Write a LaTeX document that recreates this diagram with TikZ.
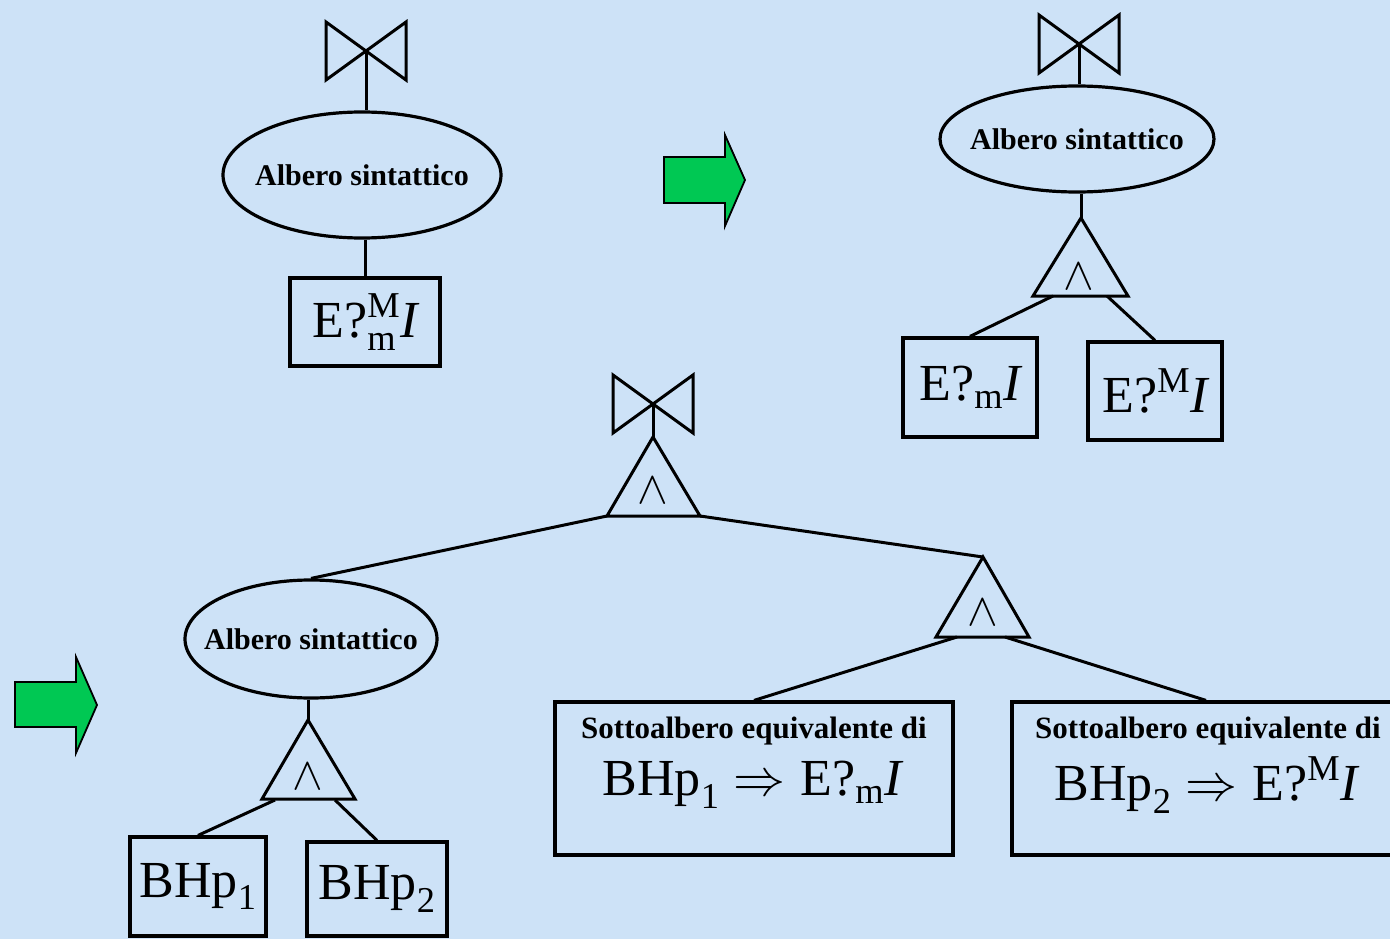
\documentclass[tikz,border=0pt]{standalone}
\usepackage{fix-cm}
\usepackage{fontspec}
\setmainfont{Liberation Serif}
\usetikzlibrary{shapes.geometric,calc}
\definecolor{bg}{RGB}{205,226,247}
\definecolor{grn}{RGB}{0,200,83}
\begin{document}
\begin{tikzpicture}[x=1pt,y=-1pt,line width=3pt,
  ell/.style={draw,ellipse,inner sep=0pt,line width=3.2pt},
  elltxt/.style={inner sep=0pt,font=\fontsize{30}{32}\selectfont\bfseries},
  boxnode/.style={draw,rectangle,inner sep=0pt,line width=3.2pt,font=\fontsize{52}{56}\selectfont},
  bigtxt/.style={inner sep=0pt,font=\fontsize{52}{56}\selectfont},
  smalltxt/.style={inner sep=0pt,font=\fontsize{31}{33}\selectfont\bfseries},
  andsym/.style={inner sep=0pt,font=\fontsize{46}{46}\selectfont},
  greenarrow/.style={fill=grn,draw=black,line width=1.8pt,line join=miter},
  bowtie/.pic={\draw[line join=miter] (-40,-29) -- (-40,29) -- (40,-29) -- (40,29) -- cycle;}
]
\fill[bg] (0,0) rectangle (1390,939);
\useasboundingbox (0,0) rectangle (1390,939);

% ---------- top left ----------
\coordinate (bt1) at (366,51);
\pic at (bt1) {bowtie};
\node[ell,minimum width=278,minimum height=126] (e1) at (362,175) {};
\node[elltxt] (e1t) at (e1.center) {Albero sintattico};
\node[boxnode,minimum width=150,minimum height=88] (b1) at (365,322)
  {$\mbox{E?}^{\mathrm{M}}_{\mathrm{m}}\mathit{I}$};
\draw (bt1) -- (bt1 |- e1.north);
\draw (b1.north) -- (b1.north |- e1.south);

% green arrow 1
\draw[greenarrow] (664,157) -- (725,157) -- (725,135) -- (745,180) -- (725,226) -- (725,203) -- (664,203) -- cycle;

% ---------- top right ----------
\coordinate (bt2) at (1079,44);
\pic at (bt2) {bowtie};
\node[ell,minimum width=274,minimum height=106] (e2) at (1077,139) {};
\node[elltxt] (e2t) at (e2.center) {Albero sintattico};
\coordinate (t1a) at (1081,218);
\coordinate (t1bl) at (1033,296);
\coordinate (t1br) at (1128,296);
\coordinate (t1l) at (1053,296);
\coordinate (t1r) at (1107,296);
\draw[line join=miter] (t1a) -- (t1br) -- (t1bl) -- cycle;
\node[andsym] (w1) at (1079,277) {$\wedge$};
\node[boxnode,minimum width=134,minimum height=99] (b2l) at (970,387.5)
  {$\mbox{E?}_{\mathrm{m}}\mathit{I}$};
\node[boxnode,minimum width=134,minimum height=98] (b2r) at (1155,391)
  {$\mbox{E?}^{\mathrm{M}}\mathit{I}$};
\draw (bt2) -- (bt2 |- e2.north);
\draw (t1a |- e2.south) -- (t1a);
\draw (t1l) -- (b2l.north);
\draw (t1r) -- (b2r.north);

% ---------- bottom ----------
\coordinate (bt3) at (653,404);
\pic at (bt3) {bowtie};
\coordinate (t2a) at (653,437);
\coordinate (t2bl) at (607,516);
\coordinate (t2br) at (700,516);
\draw[line join=miter] (t2a) -- (t2br) -- (t2bl) -- cycle;
\node[andsym] (w2) at (653,491) {$\wedge$};
\draw (bt3) -- (t2a);

\node[ell,minimum width=252,minimum height=118] (e3) at (311,639) {};
\node[elltxt] (e3t) at (e3.center) {Albero sintattico};
\coordinate (t3a) at (983,557);
\coordinate (t3bl) at (936,637);
\coordinate (t3br) at (1029,637);
\coordinate (t3l) at (957,637);
\coordinate (t3r) at (1005,637);
\draw[line join=miter] (t3a) -- (t3br) -- (t3bl) -- cycle;
\node[andsym] (w3) at (983,613) {$\wedge$};

\draw (t2bl) -- (e3.north);
\draw (t2br) -- (t3a);

% left subtree
\coordinate (t4a) at (308,720);
\coordinate (t4bl) at (262,799);
\coordinate (t4br) at (355,799);
\coordinate (t4l) at (275,800);
\coordinate (t4r) at (335,800);
\draw[line join=miter] (t4a) -- (t4br) -- (t4bl) -- cycle;
\node[andsym] (w4) at (308,777) {$\wedge$};
\draw (t4a |- e3.south) -- (t4a);
\node[boxnode,minimum width=136,minimum height=99] (bh1) at (198,886.5)
  {$\mathrm{BHp}_{\mathrm{1}}$};
\node[boxnode,minimum width=140,minimum height=94] (bh2) at (377,889)
  {$\mathrm{BHp}_{\mathrm{2}}$};
\draw (t4l) -- (bh1.north);
\draw (t4r) -- (bh2.north);

% right subtree
\node[boxnode,minimum width=398,minimum height=153] (sl) at (754,778.5) {};
\node[boxnode,minimum width=388,minimum height=153] (sr) at (1206,778.5) {};
\node[smalltxt] (sl1) at (754,731) {Sottoalbero equivalente di};
\node[bigtxt] (sl2) at (752,785) {$\mathrm{BHp}_{\mathrm{1}}\Rightarrow\mbox{E?}_{\mathrm{m}}\mathit{I}$};
\node[smalltxt] (sr1) at (1208,731) {Sottoalbero equivalente di};
\node[bigtxt] (sr2) at (1206,785) {$\mathrm{BHp}_{\mathrm{2}}\Rightarrow\mbox{E?}^{\mathrm{M}}\mathit{I}$};
\draw (t3l) -- (sl.north);
\draw (t3r) -- (sr.north);

% green arrow 2
\draw[greenarrow] (15,682) -- (76,682) -- (76,657) -- (97,705) -- (76,753) -- (76,727) -- (15,727) -- cycle;
\end{tikzpicture}
\end{document}
